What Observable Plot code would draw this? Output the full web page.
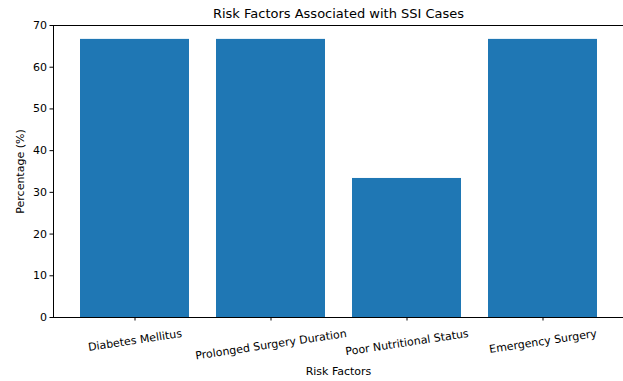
<!DOCTYPE html>
<html>
<head>
<meta charset="utf-8">
<script src="https://cdn.jsdelivr.net/npm/d3@7"></script>
<script src="https://cdn.jsdelivr.net/npm/@observablehq/plot@0.6"></script>
<style>
  body { margin: 0; background: #fff; }
  svg { font-family: "DejaVu Sans", sans-serif; }
</style>
</head>
<body>
<div id="chart"></div>
<script>
const categories = ["Diabetes Mellitus", "Prolonged Surgery Duration", "Poor Nutritional Status", "Emergency Surgery"];
const percentages = [66.67, 66.67, 33.33, 66.67];
const yTicks = [0, 10, 20, 30, 40, 50, 60, 70];
const title = "Risk Factors Associated with SSI Cases";
const xLabel = "Risk Factors";
const yLabel = "Percentage (%)";

const data = categories.map((c, i) => ({category: c, value: percentages[i]}));

const chart = Plot.plot({
  width: 623,
  height: 381,
  marginLeft: 53,
  marginRight: 0,
  marginTop: 25,
  marginBottom: 64,
  style: {fontFamily: "DejaVu Sans, sans-serif", fontSize: "11px", color: "#000", background: "#fff"},
  x: {domain: categories, paddingInner: 0.2, paddingOuter: 0.19, align: 0.5},
  y: {domain: [0, 70]},
  marks: [
    Plot.barY(data, {x: "category", y: "value", fill: "#1f77b4"}),
    Plot.axisY({ticks: yTicks, tickSize: 3.5, tickPadding: 3, fontSize: 11, label: null, stroke: "#000"}),
    Plot.axisX({tickSize: 3.5, tickFormat: null, label: null, stroke: "#000"}),
    Plot.text(categories, {x: d => d, frameAnchor: "bottom", dy: 20, rotate: -8.5, textAnchor: "middle", lineAnchor: "middle", fontSize: 11, fill: "#000", className: "xlab"}),
    Plot.text([yLabel], {frameAnchor: "left", dx: -33, rotate: -90, textAnchor: "middle", lineAnchor: "middle", fontSize: 11, fill: "#000"}),
    Plot.text([xLabel], {frameAnchor: "bottom", dy: 54, textAnchor: "middle", lineAnchor: "middle", fontSize: 11, fill: "#000"}),
    Plot.text([title], {frameAnchor: "top", dy: -12, textAnchor: "middle", lineAnchor: "middle", fontSize: 13, fill: "#000"}),
    Plot.frame({stroke: "#000", strokeWidth: 1})
  ]
});

document.getElementById("chart").appendChild(chart);

// Align rotated tick labels so their bounding boxes start just below the ticks (matplotlib style)
const svgTop = chart.getBoundingClientRect().top;
chart.querySelectorAll(".xlab text").forEach(t => {
  const r = t.getBoundingClientRect();
  const shift = 327 - (r.top - svgTop);
  t.setAttribute("transform", `translate(0,${shift}) ` + (t.getAttribute("transform") || ""));
});
</script>
</body>
</html>
